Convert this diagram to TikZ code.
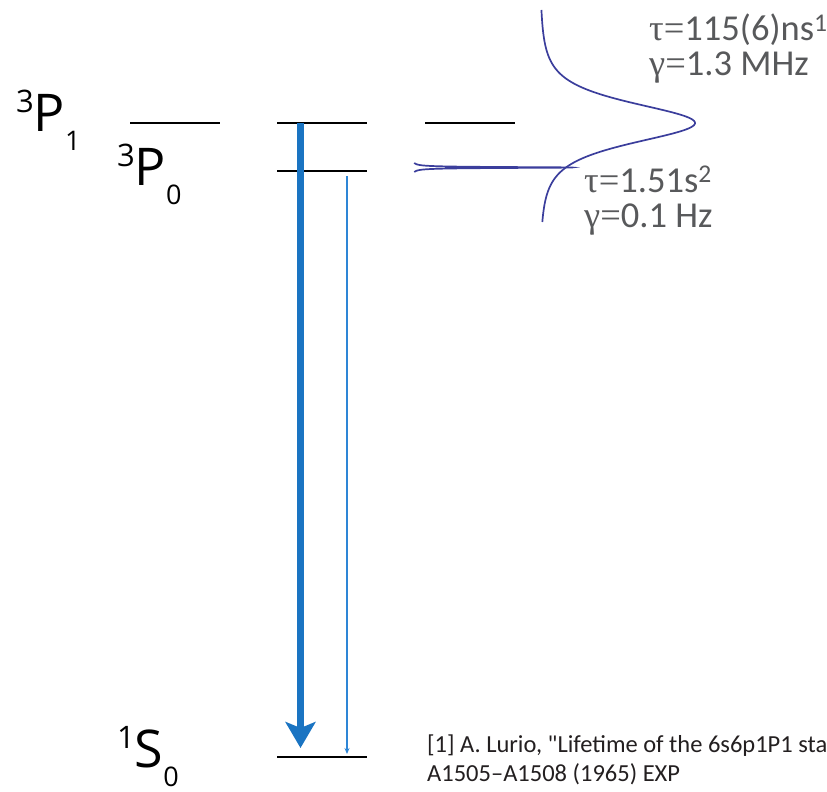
\documentclass[tikz,border=0pt]{standalone}
\usepackage{fontspec}
\setmainfont{Open Sans}
\newfontfamily\notefont{Carlito}[Ligatures=TeXOff]
\newfontfamily\greekfont{Liberation Serif}
\usepackage{tikz}
\usetikzlibrary{arrows.meta}
\definecolor{decayblue}{HTML}{1A74C2}
\definecolor{thinblue}{HTML}{2E86D6}
\definecolor{curveblue}{HTML}{3B3E9C}
\definecolor{notegray}{HTML}{58595B}
\definecolor{refblack}{HTML}{231F20}
\tikzset{
	level/.style={line width=1.8pt, black}
}
\tikzset{
	lorentz/.style={line width=1.7pt, curveblue}
}
\tikzset{
	notetext/.style={font=\notefont\fontsize{36.5}{36.5}\selectfont\color{notegray}, anchor=base west, inner sep=0pt, text depth=0pt}
}
\tikzset{
	reftext/.style={font=\notefont\fontsize{24.5}{24.5}\selectfont\color{refblack}, anchor=base west, inner sep=0pt}
}
\tikzset{
	termtext/.style={anchor=base west, inner sep=0pt}
}
\newcommand{\term}[3]{{\fontsize{31}{31}\selectfont\raisebox{19pt}{#1}}{\fontsize{52}{52}\selectfont #2}{\fontsize{27}{27}\selectfont\raisebox{-19pt}{#3}}}
\newcommand{\gk}[1]{{\greekfont #1=}}

\begin{document}
\begin{tikzpicture}[x=1pt,y=-1pt]
      \useasboundingbox (0,0) rectangle (827,792);
      \clip (0,0) rectangle (827,792);
      \foreach \xa in {130,277,425}
        \draw[level] (\xa,123) -- ++(90,0);
      \foreach \ya in {171,757}
        \draw[level] (277,\ya) -- ++(90,0);
      \node[termtext] (pone) at (16,131) {\term{3}{P}{1}};
      \node[termtext] (pzero) at (117,185) {\term{3}{P}{0}};
      \node[termtext] (szero) at (117,767) {\term{1}{S}{0}};
      \coordinate (ptop) at (300.5,123);
      \coordinate (stip) at (300.5,748);
      \coordinate (pmid) at (347,176);
      \coordinate (sbase) at (347,754);
      \draw[decayblue, line width=7pt, -{Stealth[width=30pt,length=26pt,inset=6pt]}] (ptop) -- (stip);
      \draw[thinblue, line width=1.1pt, -{Stealth[width=5pt,length=6pt]}] (pmid) -- (sbase);
      \draw[lorentz] plot[domain=-113:99, samples=240, smooth] ({540+155/(1+(\x/37)^2)^2}, {123+\x});
      \draw[lorentz] plot[domain=-4.6:4.6, samples=461] ({412+160/(1+(\x/0.56)^2)}, {167.5+\x});
      \node[notetext] (tauone) at (649,41) {\gk{τ}115(6)ns\textsuperscript{1}};
      \node[notetext] (gammaone) at (649,76) {\gk{γ}1.3 MHz};
      \node[notetext] (tautwo) at (584,192) {\gk{τ}1.51s\textsuperscript{2}};
      \node[notetext] (gammatwo) at (584,227) {\gk{γ}0.1 Hz};
      \node[reftext] (refone) at (427,752) {[1] A. Lurio, "Lifetime of the 6s6p1P1 state};
      \node[reftext] (reftwo) at (427,781) {A1505–A1508 (1965) EXP};
    \end{tikzpicture}
\end{document}
